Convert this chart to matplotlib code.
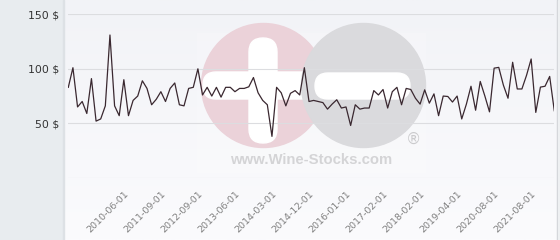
import matplotlib
matplotlib.use("Agg")
import matplotlib.pyplot as plt
from matplotlib.patches import Circle, FancyBboxPatch, Rectangle
import numpy as np

# prix (USD), un point par relevé
prices = [83, 101, 65, 70, 59, 91, 52, 54, 66, 131,
          66, 57, 90, 57, 71, 75, 89, 82, 67, 72,
          79, 70, 82, 87, 67, 66, 82, 83, 100, 76,
          83, 75, 83, 74, 83, 83, 79, 82, 82, 83.5,
          92, 78, 71, 67, 38, 83, 78, 66, 77.5, 80,
          76, 101, 70, 71, 70, 69, 63, 67.6, 71.6, 64,
          65, 48, 67, 63, 64, 64, 80, 76, 81, 64,
          79, 83, 67, 82, 81, 73, 67.6, 80.7, 68.5, 77,
          57, 75, 74.6, 69.5, 75, 54, 67.5, 84, 62, 88.4,
          75, 60.5, 100.6, 101.3, 85, 73, 106, 81.5, 81.5, 94,
          109, 60, 83.2, 84, 93, 61.5]

date_labels = ["2010-06-01", "2011-09-01", "2012-09-01", "2013-06-01",
               "2014-03-01", "2014-12-01", "2016-01-01", "2017-02-01",
               "2018-02-01", "2019-04-01", "2020-08-01", "2021-08-01"]
y_ticks = [50, 100, 150]

W, H = 560, 240
fig = plt.figure(figsize=(W / 100, H / 100), dpi=100)
fig.patch.set_facecolor("#e8ecef")

# fond + filigrane, en coordonnées pixel
bg = fig.add_axes([0, 0, 1, 1])
bg.set_xlim(0, W)
bg.set_ylim(H, 0)
bg.axis("off")
grad = np.linspace(0, 1, 100).reshape(-1, 1)
top = np.array([242, 243, 247]) / 255
bot = np.array([251, 251, 253]) / 255
img = top + grad[..., None] * (bot - top)
bg.imshow(img, extent=(63.5, 556.5, H, 0), aspect="auto", zorder=0)
bg.add_patch(Rectangle((556.5, 0), 1.5, H, color="#cfd2d6", zorder=1))
bg.add_patch(Rectangle((558, 0), 2, H, color="#eef0f2", zorder=1))
bg.add_patch(Rectangle((62.5, 0), 1, H, color="#dde1e5", zorder=1))
bg.add_patch(Rectangle((197, 33), 228, 139, color="white", alpha=0.18, zorder=1))

bg.add_patch(Circle((263.5, 85.5), 62, color="#ebd2d9", zorder=2))
bg.add_patch(FancyBboxPatch((249, 38), 28, 105, boxstyle="round,pad=0,rounding_size=14",
                            color="white", zorder=3))
bg.add_patch(FancyBboxPatch((203, 72), 120, 27, boxstyle="round,pad=0,rounding_size=13",
                            color="white", zorder=3))
bg.add_patch(Circle((363.5, 85.5), 62, color="#dadadd", zorder=4))
bg.add_patch(FancyBboxPatch((315, 73), 95, 26, boxstyle="round,pad=0,rounding_size=13",
                            color="white", zorder=5))
bg.text(413, 139, "®", fontsize=11, color="#cbcbcd", ha="center", va="center", zorder=5)
bg.text(311.5, 160.5, "www.Wine-Stocks.com", fontsize=10.7, fontweight="bold",
        family="Liberation Sans", color="#d4d4d6", ha="center", va="center", zorder=5)

# graphique
x = np.arange(len(prices))
ax = fig.add_axes([68.3 / W, (H - 177.8) / H, (554.3 - 68.3) / W, (177.8 - 14.3) / H])
ax.set_facecolor("none")
ax.plot(x, prices, color="#3a2830", linewidth=0.9, zorder=3)
ax.set_xlim(0, len(prices) - 1)
ax.set_ylim(0, 150)
for v in [0] + y_ticks:
    ax.axhline(v, color="#dcdde0", linewidth=0.8, zorder=1)
for s in ax.spines.values():
    s.set_visible(False)

ax.set_yticks(y_ticks)
ax.set_yticklabels([f"{v} $" for v in y_ticks], fontsize=7.8, color="#333333")
ax.tick_params(axis="y", length=0, pad=6.5)

ax.set_xticks(range(12, len(prices), 8))
ax.set_xticklabels(date_labels, rotation=45, ha="right", va="top",
                   rotation_mode="anchor", fontsize=6.8, color="#808080")
ax.tick_params(axis="x", length=0, pad=8.5)

fig.savefig("out.png", dpi=100)
